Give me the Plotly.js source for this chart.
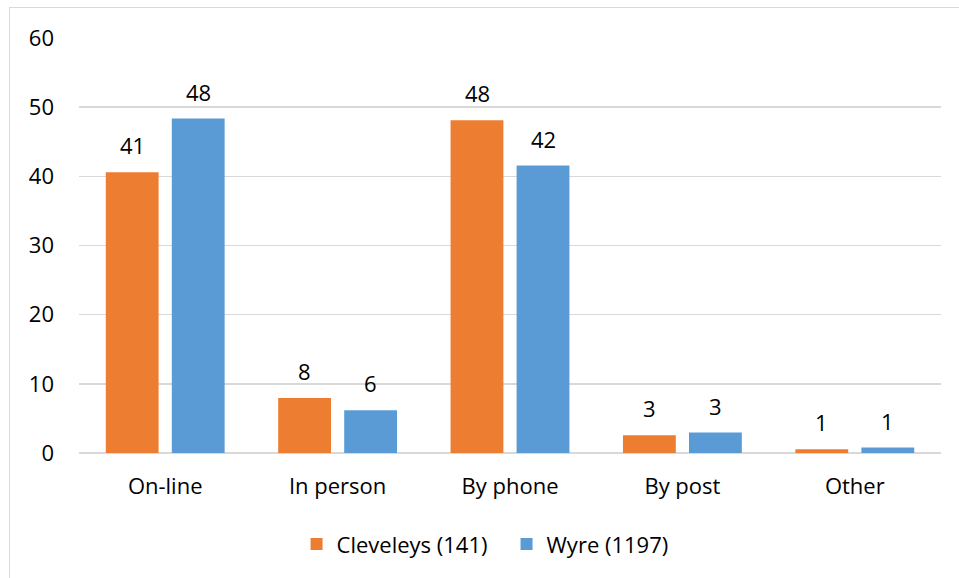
<!DOCTYPE html>
<html>
<head>
<meta charset="utf-8">
<script src="https://cdn.plot.ly/plotly-3.0.1.min.js"></script>
<style>
  html, body { margin: 0; padding: 0; background: #ffffff; }
  #wrap { position: relative; width: 959px; height: 578px; overflow: hidden; }
  #chart { position: absolute; left: 0; top: 0; width: 959px; height: 578px; }
  #frame { position: absolute; left: 9px; top: 7px; width: 980px; height: 600px;
           border-left: 1.5px solid #d9d9d9; border-top: 1.5px solid #d9d9d9; pointer-events: none; }
</style>
</head>
<body>
<div id="wrap">
  <div id="chart"></div>
  <div id="frame"></div>
</div>
<script>
const categories = ["On-line", "In person", "By phone", "By post", "Other"];
const seriesNames = ["Cleveleys (141)", "Wyre (1197)"];
const cleveleys = [40.6, 7.95, 48.1, 2.56, 0.53];
const wyre = [48.35, 6.17, 41.55, 2.95, 0.78];
const yTicks = [0, 10, 20, 30, 40, 50, 60];

const FONT = "'Open Sans', Lato, sans-serif";
const FS = 22;
const colors = ["#ed7d31", "#5b9bd5"];

const traces = [cleveleys, wyre].map((vals, k) => ({
  type: "bar",
  name: seriesNames[k],
  x: categories,
  y: vals,
  marker: { color: colors[k] },
  hoverinfo: "x+y+name"
}));

const annotations = [];
[cleveleys, wyre].forEach((vals, k) => {
  vals.forEach((v, i) => {
    annotations.push({
      x: categories[i], y: v, xref: "x", yref: "y",
      text: String(Math.round(v)),
      showarrow: false,
      xshift: k === 0 ? -33 : 33,
      yanchor: "bottom",
      yshift: 10,
      font: { family: FONT, size: FS, color: "#000000" }
    });
  });
});

const layout = {
  width: 959, height: 578,
  margin: { l: 79, r: 18, t: 38, b: 125 },
  paper_bgcolor: "rgba(0,0,0,0)",
  plot_bgcolor: "#ffffff",
  barmode: "group",
  bargap: 0.234,
  bargroupgap: 0.2,
  font: { family: FONT, size: FS, color: "#000000" },
  xaxis: {
    showgrid: false, zeroline: false, showline: false,
    ticks: "", tickfont: { family: FONT, size: FS, color: "#000000" },
    ticklabelstandoff: 18
  },
  yaxis: {
    range: [0, 60], tickvals: yTicks, ticktext: yTicks.map(String),
    showgrid: true, gridcolor: "#d9d9d9", gridwidth: 1.5,
    zeroline: true, zerolinecolor: "#d9d9d9", zerolinewidth: 1.5,
    showline: false, ticks: "",
    tickfont: { family: FONT, size: FS, color: "#000000" },
    ticklabelstandoff: 24
  },
  legend: {
    orientation: "h", x: 0.496, xanchor: "center", y: -0.22, yanchor: "middle",
    font: { family: FONT, size: FS, color: "#000000" },
    itemwidth: 30, traceorder: "normal",
    entrywidth: 165, entrywidthmode: "pixels"
  },
  annotations: annotations,
  showlegend: true
};

Plotly.newPlot("chart", traces, layout, { displayModeBar: false, staticPlot: true });
</script>
</body>
</html>
